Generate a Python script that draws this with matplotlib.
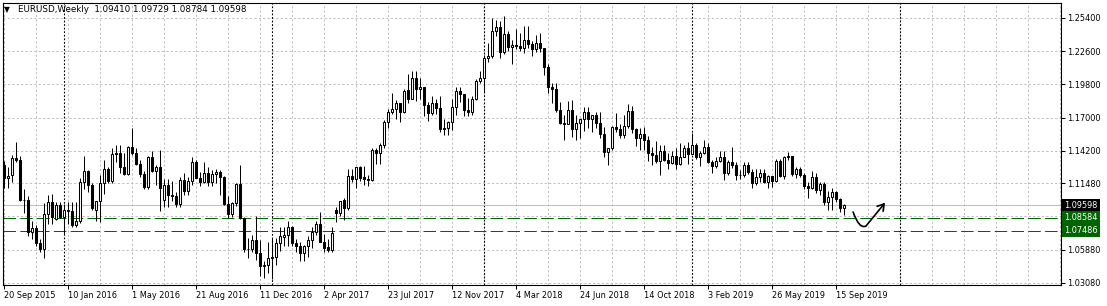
import matplotlib
matplotlib.use("Agg")
import matplotlib.pyplot as plt
import matplotlib.transforms as mtransforms
import numpy as np
import pandas as pd
from matplotlib.path import Path
from matplotlib.patches import FancyArrowPatch

# EURUSD weekly candles, first week starts 20 Sep 2015
opens = [1.1300, 1.1195, 1.1215, 1.1357, 1.1345, 1.1010, 1.1005, 1.0738, 1.0770, 1.0645,
         1.0590, 1.0885, 1.0990, 1.0850, 1.0965, 1.0860, 1.0925, 1.0915, 1.0795, 1.0830,
         1.1155, 1.1250, 1.1130, 1.0925, 1.0995, 1.1150, 1.1270, 1.1165, 1.1390, 1.1400,
         1.1285, 1.1225, 1.1450, 1.1405, 1.1310, 1.1225, 1.1115, 1.1365, 1.1250, 1.1280,
         1.1010, 1.1135, 1.1050, 1.1040, 1.0975, 1.1175, 1.1085, 1.1165, 1.1325, 1.1195,
         1.1155, 1.1230, 1.1155, 1.1225, 1.1240, 1.1200, 1.0970, 1.0885, 1.0980, 1.1140,
         1.0855, 1.0590, 1.0595, 1.0665, 1.0560, 1.0450, 1.0455, 1.0520, 1.0530, 1.0645,
         1.0695, 1.0710, 1.0780, 1.0645, 1.0615, 1.0560, 1.0620, 1.0670, 1.0740, 1.0800,
         1.0655, 1.0612, 1.0588, 1.0925, 1.0900, 1.1010, 1.0935, 1.1205, 1.1185, 1.1280,
         1.1200, 1.1185, 1.1175, 1.1425, 1.1400, 1.1470, 1.1665, 1.1750, 1.1770, 1.1820,
         1.1750, 1.1935, 1.1860, 1.2030, 1.1940, 1.1955, 1.1810, 1.1735, 1.1820, 1.1780,
         1.1605, 1.1610, 1.1665, 1.1790, 1.1925, 1.1895, 1.1765, 1.1745, 1.1860, 1.2005,
         1.2030, 1.2200, 1.2220, 1.2425, 1.2460, 1.2250, 1.2405, 1.2295, 1.2310, 1.2305,
         1.2290, 1.2355, 1.2320, 1.2280, 1.2330, 1.2285, 1.2130, 1.1960, 1.1940, 1.1765,
         1.1655, 1.1650, 1.1765, 1.1605, 1.1655, 1.1685, 1.1745, 1.1685, 1.1720, 1.1655,
         1.1565, 1.1410, 1.1440, 1.1620, 1.1600, 1.1550, 1.1625, 1.1755, 1.1605, 1.1525,
         1.1560, 1.1510, 1.1400, 1.1385, 1.1335, 1.1415, 1.1340, 1.1315, 1.1380, 1.1305,
         1.1370, 1.1440, 1.1395, 1.1470, 1.1365, 1.1405, 1.1455, 1.1325, 1.1295, 1.1335,
         1.1365, 1.1235, 1.1325, 1.1300, 1.1215, 1.1215, 1.1300, 1.1245, 1.1150, 1.1200,
         1.1235, 1.1160, 1.1205, 1.1170, 1.1335, 1.1210, 1.1370, 1.1375, 1.1225, 1.1270,
         1.1220, 1.1125, 1.1110, 1.1200, 1.1090, 1.1140, 1.0985, 1.1030, 1.1075, 1.1015,
         1.09410]
highs = [1.1333, 1.1288, 1.1387, 1.1495, 1.1375, 1.1095, 1.1040, 1.0830, 1.0795, 1.0680,
         1.0980, 1.1045, 1.1060, 1.0990, 1.0990, 1.0970, 1.0990, 1.0990, 1.0985, 1.1195,
         1.1375, 1.1260, 1.1150, 1.1000, 1.1220, 1.1340, 1.1280, 1.1440, 1.1465, 1.1465,
         1.1400, 1.1460, 1.1615, 1.1445, 1.1345, 1.1250, 1.1375, 1.1415, 1.1300, 1.1425,
         1.1185, 1.1185, 1.1165, 1.1070, 1.1200, 1.1235, 1.1200, 1.1365, 1.1340, 1.1240,
         1.1330, 1.1280, 1.1255, 1.1265, 1.1255, 1.1205, 1.1040, 1.0985, 1.1145, 1.1300,
         1.0860, 1.0690, 1.0710, 1.0875, 1.0670, 1.0495, 1.0655, 1.0685, 1.0685, 1.0775,
         1.0775, 1.0830, 1.0790, 1.0680, 1.0650, 1.0630, 1.0700, 1.0780, 1.0825, 1.0905,
         1.0720, 1.0680, 1.0780, 1.0950, 1.1000, 1.1025, 1.1265, 1.1270, 1.1285, 1.1295,
         1.1295, 1.1215, 1.1445, 1.1445, 1.1490, 1.1680, 1.1775, 1.1910, 1.1845, 1.1825,
         1.1940, 1.2070, 1.2090, 1.2090, 1.2035, 1.1960, 1.1830, 1.1880, 1.1860, 1.1880,
         1.1690, 1.1670, 1.1860, 1.1960, 1.1960, 1.1900, 1.1865, 1.1880, 1.2025, 1.2090,
         1.2230, 1.2325, 1.2535, 1.2520, 1.2510, 1.2555, 1.2430, 1.2355, 1.2445, 1.2410,
         1.2475, 1.2475, 1.2345, 1.2395, 1.2415, 1.2290, 1.2150, 1.1995, 1.1995, 1.1830,
         1.1720, 1.1840, 1.1850, 1.1720, 1.1690, 1.1790, 1.1790, 1.1720, 1.1750, 1.1745,
         1.1620, 1.1445, 1.1625, 1.1735, 1.1650, 1.1720, 1.1815, 1.1795, 1.1610, 1.1610,
         1.1620, 1.1545, 1.1455, 1.1500, 1.1470, 1.1470, 1.1400, 1.1420, 1.1440, 1.1485,
         1.1470, 1.1495, 1.1570, 1.1490, 1.1415, 1.1515, 1.1490, 1.1345, 1.1370, 1.1420,
         1.1420, 1.1345, 1.1450, 1.1325, 1.1255, 1.1325, 1.1325, 1.1265, 1.1265, 1.1265,
         1.1265, 1.1215, 1.1210, 1.1350, 1.1350, 1.1375, 1.1410, 1.1380, 1.1285, 1.1285,
         1.1230, 1.1160, 1.1250, 1.1230, 1.1160, 1.1160, 1.1085, 1.1110, 1.1085, 1.1025,
         1.09729]
lows = [1.1105, 1.1105, 1.1160, 1.1330, 1.1000, 1.0895, 1.0705, 1.0675, 1.0615, 1.0565,
        1.0520, 1.0800, 1.0805, 1.0840, 1.0855, 1.0710, 1.0805, 1.0780, 1.0775, 1.0810,
        1.1100, 1.1070, 1.0925, 1.0825, 1.0820, 1.1055, 1.1145, 1.1145, 1.1325, 1.1235,
        1.1215, 1.1215, 1.1385, 1.1300, 1.1200, 1.1095, 1.1095, 1.1240, 1.1130, 1.0910,
        1.0950, 1.0950, 1.1000, 1.0950, 1.0950, 1.1045, 1.1045, 1.1135, 1.1190, 1.1120,
        1.1145, 1.1120, 1.1120, 1.1145, 1.1045, 1.0965, 1.0855, 1.0860, 1.0955, 1.0850,
        1.0570, 1.0520, 1.0570, 1.0505, 1.0365, 1.0350, 1.0390, 1.0340, 1.0455, 1.0580,
        1.0620, 1.0620, 1.0620, 1.0565, 1.0495, 1.0495, 1.0525, 1.0600, 1.0715, 1.0650,
        1.0570, 1.0570, 1.0570, 1.0820, 1.0870, 1.0840, 1.0920, 1.1160, 1.1110, 1.1170,
        1.1130, 1.1120, 1.1170, 1.1310, 1.1310, 1.1445, 1.1610, 1.1730, 1.1690, 1.1660,
        1.1735, 1.1820, 1.1855, 1.1840, 1.1860, 1.1715, 1.1670, 1.1720, 1.1730, 1.1575,
        1.1555, 1.1555, 1.1595, 1.1720, 1.1830, 1.1715, 1.1715, 1.1720, 1.1850, 1.1995,
        1.1915, 1.2165, 1.2200, 1.2385, 1.2205, 1.2235, 1.2260, 1.2155, 1.2275, 1.2260,
        1.2240, 1.2285, 1.2215, 1.2255, 1.2255, 1.2055, 1.1910, 1.1820, 1.1750, 1.1645,
        1.1510, 1.1645, 1.1540, 1.1510, 1.1525, 1.1590, 1.1615, 1.1575, 1.1615, 1.1530,
        1.1365, 1.1300, 1.1430, 1.1580, 1.1525, 1.1530, 1.1610, 1.1570, 1.1460, 1.1430,
        1.1430, 1.1335, 1.1300, 1.1315, 1.1215, 1.1335, 1.1265, 1.1305, 1.1265, 1.1300,
        1.1365, 1.1310, 1.1390, 1.1350, 1.1290, 1.1390, 1.1320, 1.1235, 1.1275, 1.1325,
        1.1175, 1.1220, 1.1275, 1.1175, 1.1185, 1.1200, 1.1225, 1.1110, 1.1135, 1.1160,
        1.1150, 1.1105, 1.1115, 1.1160, 1.1200, 1.1180, 1.1340, 1.1210, 1.1195, 1.1200,
        1.1100, 1.1025, 1.1100, 1.1065, 1.1050, 1.0965, 1.0925, 1.0925, 1.0990, 1.0905,
        1.08784]
closes = [1.1195, 1.1210, 1.1357, 1.1345, 1.1010, 1.1005, 1.0738, 1.0770, 1.0645, 1.0590,
          1.0885, 1.0990, 1.0865, 1.0960, 1.0860, 1.0925, 1.0915, 1.0795, 1.0830, 1.1155,
          1.1250, 1.1130, 1.0935, 1.0995, 1.1150, 1.1270, 1.1165, 1.1390, 1.1400, 1.1285,
          1.1225, 1.1450, 1.1405, 1.1310, 1.1225, 1.1115, 1.1365, 1.1250, 1.1280, 1.1105,
          1.1135, 1.1050, 1.1040, 1.0975, 1.1175, 1.1085, 1.1165, 1.1325, 1.1195, 1.1155,
          1.1230, 1.1155, 1.1225, 1.1240, 1.1200, 1.0970, 1.0885, 1.0980, 1.1140, 1.0855,
          1.0590, 1.0595, 1.0665, 1.0560, 1.0450, 1.0455, 1.0520, 1.0530, 1.0645, 1.0700,
          1.0710, 1.0780, 1.0645, 1.0615, 1.0560, 1.0620, 1.0670, 1.0740, 1.0800, 1.0655,
          1.0600, 1.0588, 1.0730, 1.0900, 1.0995, 1.0935, 1.1205, 1.1185, 1.1280, 1.1195,
          1.1185, 1.1175, 1.1425, 1.1400, 1.1470, 1.1665, 1.1750, 1.1770, 1.1820, 1.1750,
          1.1920, 1.1860, 1.2030, 1.1940, 1.1955, 1.1810, 1.1735, 1.1820, 1.1780, 1.1605,
          1.1610, 1.1665, 1.1790, 1.1925, 1.1895, 1.1765, 1.1745, 1.1860, 1.2005, 1.2030,
          1.2200, 1.2220, 1.2425, 1.2460, 1.2250, 1.2405, 1.2295, 1.2310, 1.2305, 1.2290,
          1.2355, 1.2320, 1.2280, 1.2330, 1.2285, 1.2130, 1.1960, 1.1940, 1.1765, 1.1655,
          1.1650, 1.1765, 1.1605, 1.1655, 1.1685, 1.1745, 1.1685, 1.1720, 1.1655, 1.1565,
          1.1410, 1.1440, 1.1620, 1.1600, 1.1550, 1.1625, 1.1755, 1.1605, 1.1525, 1.1560,
          1.1510, 1.1400, 1.1385, 1.1335, 1.1415, 1.1340, 1.1315, 1.1380, 1.1305, 1.1370,
          1.1440, 1.1395, 1.1470, 1.1365, 1.1405, 1.1455, 1.1325, 1.1295, 1.1335, 1.1365,
          1.1235, 1.1325, 1.1300, 1.1215, 1.1215, 1.1300, 1.1245, 1.1150, 1.1200, 1.1235,
          1.1160, 1.1205, 1.1170, 1.1335, 1.1210, 1.1370, 1.1375, 1.1225, 1.1270, 1.1220,
          1.1125, 1.1110, 1.1200, 1.1090, 1.1140, 1.0985, 1.1030, 1.1075, 1.1015, 1.0940,
          1.09598]

symbol = "EURUSD,Weekly"
first_week = "2015-09-20"
price_ticks = [1.25400, 1.22600, 1.19800, 1.17000, 1.14200, 1.11480, 1.05880, 1.03080]
hidden_grid = [1.08680]  # grid row whose label sits under the level boxes
levels = [1.08584, 1.07486]

# hand drawn arrow (bar index, price)
arrow_pts = [(212.4, 1.0905), (213.9, 1.0761), (215.6, 1.0786), (220.4, 1.0983)]

o = np.array(opens)
h = np.array(highs)
l = np.array(lows)
c = np.array(closes)
n = len(c)
x = np.arange(n)
weeks = pd.date_range(first_week, periods=n + 60, freq="W-SUN")

plt.rcParams['font.family'] = ['DejaVu Sans']
fs = 5.9
grid_col = '#c0c0c0'
green = '#006400'

fig = plt.figure(figsize=(11.07, 3.06), dpi=100)
W, H = 1107, 306
ax = fig.add_axes([2.5 / W, (H - 284.5) / H, (1061 - 2.5) / W, (284.5 - 2.5) / H])
ax.set_xlim(-0.25, 264.375)
ax.set_ylim(1.02945, 1.2669)

# grid
for k in range(0, 265, 8):
    ax.axvline(k, color=grid_col, lw=0.72, ls=(0, (2.2, 2.2)), zorder=0)
for p in price_ticks + hidden_grid:
    ax.axhline(p, color=grid_col, lw=0.72, ls=(0, (2.2, 2.2)), zorder=0)

# year separators
years = weeks.year
for i in range(1, len(weeks)):
    if years[i] != years[i - 1] and i < 264:
        ax.axvline(i, color='black', lw=0.8, ls=(0, (1.6, 1.6)), zorder=1)

# bid line and user levels
ax.axhline(c[-1], color=grid_col, lw=0.8, zorder=1)
for lv in levels:
    ln = ax.axhline(lv, color=green, lw=0.72, ls=(0, (12.5, 4.3)), zorder=1)
    ln.set_snap(True)

# candles
wicks = ax.vlines(x, l, h, color='black', lw=0.72, zorder=2)
wicks.set_snap(True)
up = c >= o
bot = np.minimum(o, c)
hgt = np.abs(c - o)
ax.bar(x[up], hgt[up], bottom=bot[up], width=0.5, facecolor='white',
       edgecolor='black', lw=0.75, zorder=3)
ax.bar(x[~up], hgt[~up], bottom=bot[~up], width=0.5, facecolor='black',
       edgecolor='black', lw=0.75, zorder=3)

# arrow
verts = [arrow_pts[0], arrow_pts[1], arrow_pts[2], arrow_pts[3]]
codes = [Path.MOVETO, Path.CURVE3, Path.CURVE3, Path.LINETO]
arr = FancyArrowPatch(path=Path(verts, codes), arrowstyle="->,head_length=0.45,head_width=0.28",
                      mutation_scale=10, lw=1.2, color='black', zorder=4)
ax.add_patch(arr)

# axes styling
for s in ax.spines.values():
    s.set_linewidth(0.8)
ax.yaxis.tick_right()
ax.set_yticks(price_ticks)
ax.set_yticklabels([f"{p:.5f}" for p in price_ticks])
tick_idx = list(range(0, n, 16))
ax.set_xticks(tick_idx)
ax.set_xticklabels([f"{weeks[i].day} {weeks[i]:%b %Y}" for i in tick_idx], ha='left')
ax.tick_params(axis='y', length=3, width=0.75, pad=1.5, labelsize=fs)
ax.tick_params(axis='x', length=3, width=0.75, pad=1.5, labelsize=fs)

# boxed price labels
tr = mtransforms.offset_copy(mtransforms.blended_transform_factory(ax.transAxes, ax.transData),
                             fig=fig, x=3.2, y=0, units='dots')
for val, col in [(c[-1], 'black'), (levels[0], green), (levels[1], green)]:
    ax.text(1.0, val, f"{val:.5f}", transform=tr, ha='left', va='center', color='white',
            fontsize=fs, clip_on=False, zorder=5,
            bbox=dict(boxstyle='square,pad=0.28', fc=col, ec='none'))

# header
fig.text(4 / W, 1 - 10 / H, "▼", fontsize=5.5, va='center', ha='left')
fig.text(18 / W, 1 - 10 / H,
         f"{symbol}  {o[-1]:.5f} {h[-1]:.5f} {l[-1]:.5f} {c[-1]:.5f}",
         fontsize=6.3, va='center', ha='left')

fig.savefig("out.png", dpi=100)
